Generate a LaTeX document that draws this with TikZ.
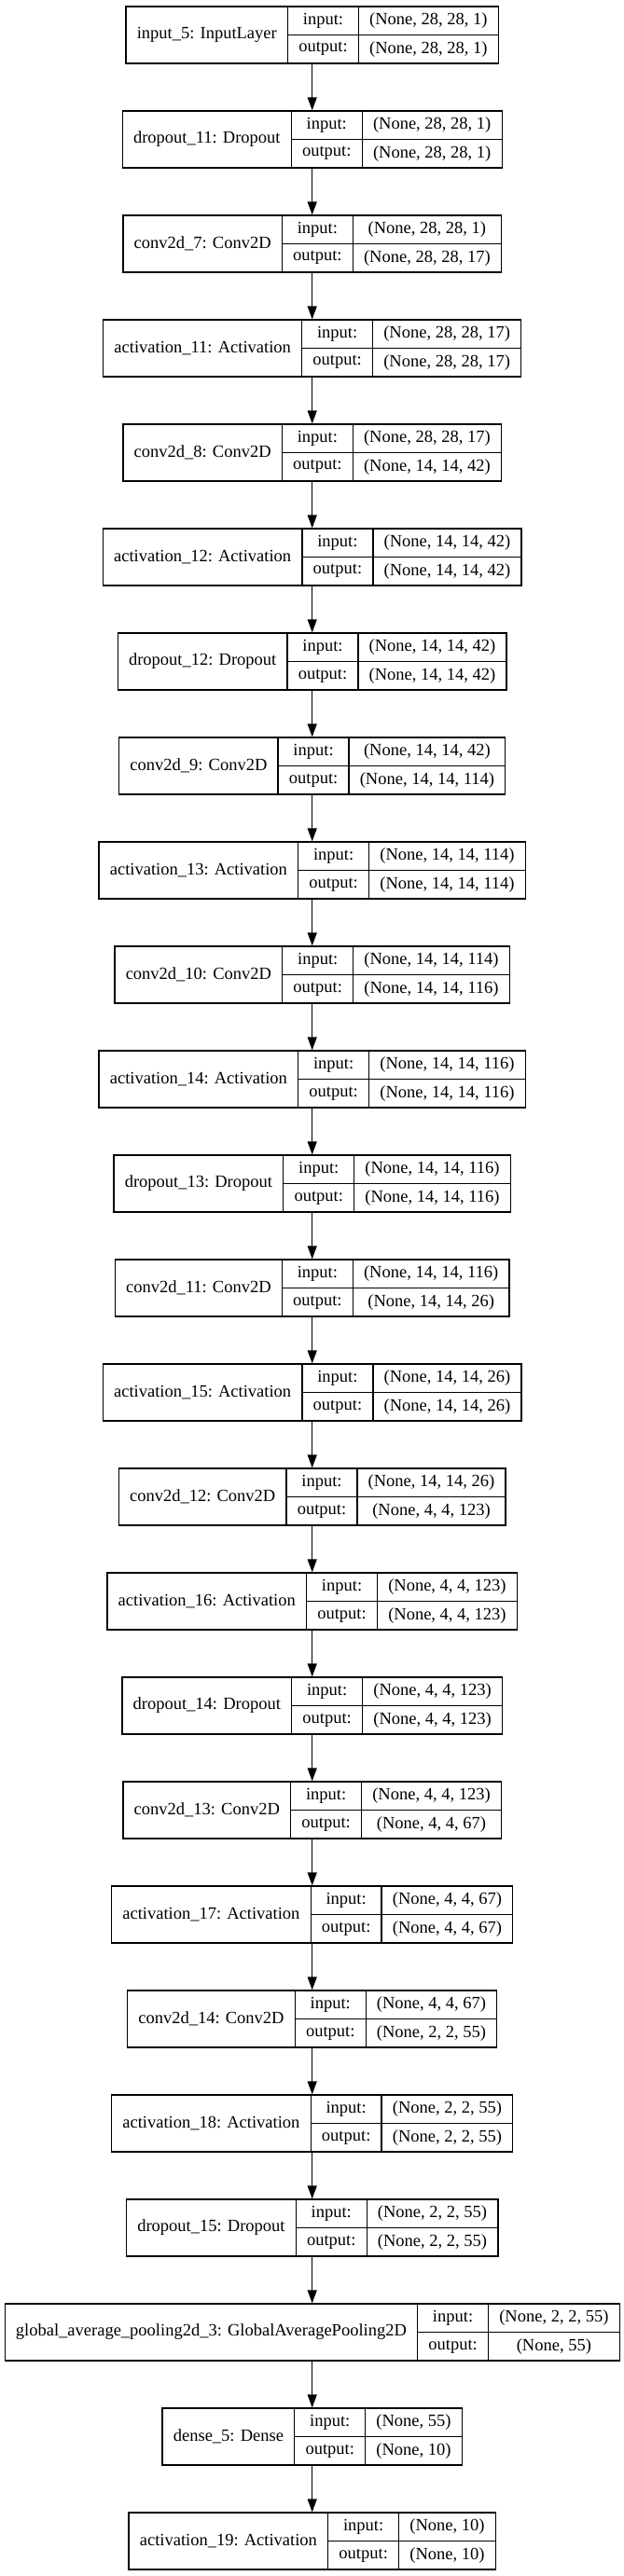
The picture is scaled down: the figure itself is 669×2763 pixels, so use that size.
\documentclass[tikz,border=0pt]{standalone}
\usepackage{fontspec}
\setmainfont{Liberation Serif}
\usetikzlibrary{arrows.meta}
\newdimen\kWn \newdimen\kWl \newdimen\kWv \newdimen\kWt
\newcommand\kfont{\fontsize{18.5pt}{22pt}\selectfont}
\newcommand\kpad{23.5}
\newcommand\kmeasure[2]{%
  \pgfinterruptpicture\global\setbox1=\hbox{\kfont #2}\endpgfinterruptpicture
  #1=\wd1\relax}
\tikzset{
  kbox/.style={draw, rectangle, line width=1.3pt, inner sep=0pt, font=\kfont, minimum height=61pt},
  khalf/.style={kbox, minimum height=30.5pt},
  kouter/.style={rectangle, draw=none, line width=1.3pt, inner sep=0pt, minimum height=61pt},
  karr/.style={-{Triangle[length=14pt,width=10pt]}, line width=1.3pt},
}
\newcommand\kerasbox[4]{%
  \kmeasure\kWn{#2}%
  \kmeasure\kWl{output:}%
  \kmeasure\kWv{#3}%
  \kmeasure\kWt{#4}%
  \ifdim\kWt>\kWv \kWv=\kWt\fi
  \pgfmathsetmacro\kwn{\the\kWn+\kpad}%
  \pgfmathsetmacro\kwl{\the\kWl+\kpad}%
  \pgfmathsetmacro\kwv{\the\kWv+\kpad}%
  \pgfmathsetmacro\kwt{\kwn+\kwl+\kwv}%
  \pgfmathsetmacro\kxa{334.7-\kwt/2}%
  \pgfmathsetmacro\kxn{\kxa+\kwn/2}%
  \pgfmathsetmacro\kxl{\kxa+\kwn+\kwl/2}%
  \pgfmathsetmacro\kxv{\kxa+\kwn+\kwl+\kwv/2}%
  \pgfmathsetmacro\kyc{37.5+112*#1}%
  \pgfmathsetmacro\kyi{\kyc-15.25}%
  \pgfmathsetmacro\kyo{\kyc+15.25}%
  \node[kouter, minimum width=\kwt pt] (L#1) at (334.7,\kyc) {};
  \node[kbox, minimum width=\kwn pt] (L#1n) at (\kxn,\kyc) {#2};
  \node[khalf, minimum width=\kwl pt] (L#1i) at (\kxl,\kyi) {input:};
  \node[khalf, minimum width=\kwl pt] (L#1o) at (\kxl,\kyo) {output:};
  \node[khalf, minimum width=\kwv pt] (L#1a) at (\kxv,\kyi) {#3};
  \node[khalf, minimum width=\kwv pt] (L#1b) at (\kxv,\kyo) {#4};
}
\begin{document}
\begin{tikzpicture}[x=1pt,y=-1pt]
\fill[white] (0,0) rectangle (669,2763);
\path[use as bounding box] (0,0) rectangle (669,2763);
\kerasbox{0}{input\_5: InputLayer}{(None, 28, 28, 1)}{(None, 28, 28, 1)}
\kerasbox{1}{dropout\_11: Dropout}{(None, 28, 28, 1)}{(None, 28, 28, 1)}
\kerasbox{2}{conv2d\_7: Conv2D}{(None, 28, 28, 1)}{(None, 28, 28, 17)}
\kerasbox{3}{activation\_11: Activation}{(None, 28, 28, 17)}{(None, 28, 28, 17)}
\kerasbox{4}{conv2d\_8: Conv2D}{(None, 28, 28, 17)}{(None, 14, 14, 42)}
\kerasbox{5}{activation\_12: Activation}{(None, 14, 14, 42)}{(None, 14, 14, 42)}
\kerasbox{6}{dropout\_12: Dropout}{(None, 14, 14, 42)}{(None, 14, 14, 42)}
\kerasbox{7}{conv2d\_9: Conv2D}{(None, 14, 14, 42)}{(None, 14, 14, 114)}
\kerasbox{8}{activation\_13: Activation}{(None, 14, 14, 114)}{(None, 14, 14, 114)}
\kerasbox{9}{conv2d\_10: Conv2D}{(None, 14, 14, 114)}{(None, 14, 14, 116)}
\kerasbox{10}{activation\_14: Activation}{(None, 14, 14, 116)}{(None, 14, 14, 116)}
\kerasbox{11}{dropout\_13: Dropout}{(None, 14, 14, 116)}{(None, 14, 14, 116)}
\kerasbox{12}{conv2d\_11: Conv2D}{(None, 14, 14, 116)}{(None, 14, 14, 26)}
\kerasbox{13}{activation\_15: Activation}{(None, 14, 14, 26)}{(None, 14, 14, 26)}
\kerasbox{14}{conv2d\_12: Conv2D}{(None, 14, 14, 26)}{(None, 4, 4, 123)}
\kerasbox{15}{activation\_16: Activation}{(None, 4, 4, 123)}{(None, 4, 4, 123)}
\kerasbox{16}{dropout\_14: Dropout}{(None, 4, 4, 123)}{(None, 4, 4, 123)}
\kerasbox{17}{conv2d\_13: Conv2D}{(None, 4, 4, 123)}{(None, 4, 4, 67)}
\kerasbox{18}{activation\_17: Activation}{(None, 4, 4, 67)}{(None, 4, 4, 67)}
\kerasbox{19}{conv2d\_14: Conv2D}{(None, 4, 4, 67)}{(None, 2, 2, 55)}
\kerasbox{20}{activation\_18: Activation}{(None, 2, 2, 55)}{(None, 2, 2, 55)}
\kerasbox{21}{dropout\_15: Dropout}{(None, 2, 2, 55)}{(None, 2, 2, 55)}
\kerasbox{22}{global\_average\_pooling2d\_3: GlobalAveragePooling2D}{(None, 2, 2, 55)}{(None, 55)}
\kerasbox{23}{dense\_5: Dense}{(None, 55)}{(None, 10)}
\kerasbox{24}{activation\_19: Activation}{(None, 10)}{(None, 10)}
\foreach \i [evaluate=\i as \j using int(\i+1)] in {0,...,23}
  \draw[karr] (L\i.south) -- (L\j.north);
\end{tikzpicture}
\end{document}
